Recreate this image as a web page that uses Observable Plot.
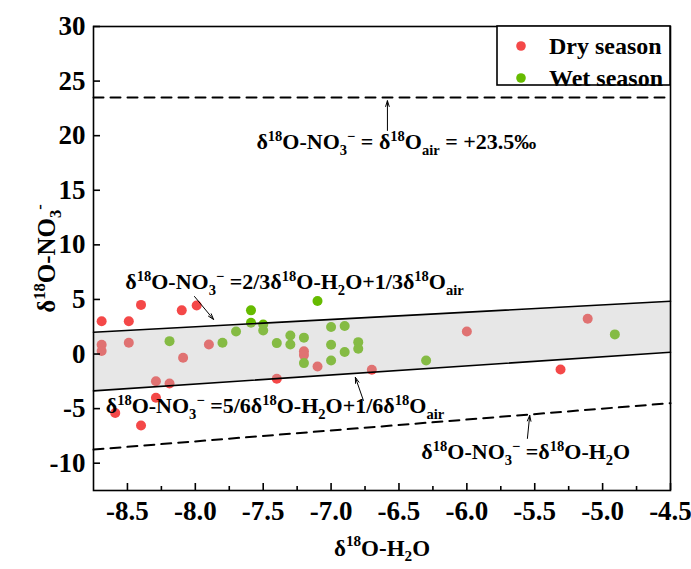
<!DOCTYPE html>
<html><head><meta charset="utf-8">
<script src="https://cdn.jsdelivr.net/npm/d3@7"></script>
<script src="https://cdn.jsdelivr.net/npm/@observablehq/plot@0.6"></script>
<style>
body{margin:0;background:#fff}
#chart svg, #chart svg text{font-family:"Liberation Serif","Times New Roman",serif !important;font-weight:bold}
</style>
</head><body><div id="chart"></div>
<script>
// ---- data ----
const dryX = [-8.69,-8.49,-8.40,-8.10,-7.99,-8.69,-8.69,-8.49,-8.09,-7.90,-8.29,-8.19,-8.29,-8.59,-8.40,-7.20,-7.20,-7.10,-7.40,-6.70,-6.00,-5.11,-5.31];
const dryY = [3.0,3.0,4.5,4.0,4.45,0.85,0.27,1.03,-0.34,0.88,-2.5,-2.7,-4.0,-5.4,-6.54,0.25,-0.1,-1.14,-2.27,-1.44,2.07,3.23,-1.41];
const wetX = [-8.19,-7.80,-7.70,-7.59,-7.10,-7.59,-7.50,-7.50,-7.40,-7.30,-7.30,-7.20,-7.20,-7.00,-6.90,-7.00,-6.90,-7.00,-6.80,-6.80,-6.30,-4.91];
const wetY = [1.18,1.03,2.07,4.0,4.85,2.87,2.7,2.16,1.0,1.7,0.88,1.5,-0.83,2.47,2.56,0.85,0.18,-0.59,1.09,0.48,-0.59,1.8];
const seasons = ["Dry season","Wet season"];
const seasonColors = ["#f44848","#66bb00"];
const xTicks = [-8.5,-8.0,-7.5,-7.0,-6.5,-6.0,-5.5,-5.0,-4.5];
const xMinorTicks = [-8.25,-7.75,-7.25,-6.75,-6.25,-5.75,-5.25,-4.75];
const yTicks = [-10,-5,0,5,10,15,20,25,30];
const xDomain = [-8.75,-4.5];
const yDomain = [-12.5,30];
const airO = 23.5; // δ18O air
// annotation labels (markup: ^{} superscript, _{} subscript)
const labelAir = "δ^{18}O-NO_{3}^{−} = δ^{18}O_{air} = +23.5‰";
const labelUpper = "δ^{18}O-NO_{3}^{−} =2/3δ^{18}O-H_{2}O+1/3δ^{18}O_{air}";
const labelLower = "δ^{18}O-NO_{3}^{−} =5/6δ^{18}O-H_{2}O+1/6δ^{18}O_{air}";
const labelWater = "δ^{18}O-NO_{3}^{−} =δ^{18}O-H_{2}O";
const xTitle = "δ^{18}O-H_{2}O";
const yTitle = "δ^{18}O-NO_{3}^{-}";
// annotation anchors in data units
const notes = [
  {x:-7.55, y:19.38, text:labelAir},
  {x:-8.516, y:6.56, text:labelUpper},
  {x:-8.66, y:-4.8, text:labelLower},
  {x:-6.335, y:-9.01, text:labelWater}
];
const arrows = [
  {x1:-6.585, y1:20.48, x2:-6.585, y2:23.2},
  {x1:-8.006, y1:5.27, x2:-7.866, y2:3.17},
  {x1:-6.762, y1:-4.25, x2:-6.821, y2:-2.14},
  {x1:-5.554, y1:-7.73, x2:-5.537, y2:-5.62}
];

// ---- derived tables ----
const points = [
  ...dryX.map((x,i)=>({x, y:dryY[i], s:seasons[0]})),
  ...wetX.map((x,i)=>({x, y:wetY[i], s:seasons[1]}))
];
const lineRows = xDomain.map(x => ({
  x,
  upper: 2/3*x + airO/3,
  lower: 5/6*x + airO/6,
  water: x,
  air: airO
}));

const W = 691, H = 569;
const mL = 93, mR = 21, mT = 26, mB = 79;
const FF = '"Liberation Serif","Times New Roman",serif';

const svg = Plot.plot({
  width: W, height: H,
  marginLeft: mL, marginRight: mR, marginTop: mT, marginBottom: mB,
  x: {domain: xDomain},
  y: {domain: yDomain},
  color: {domain: seasons, range: seasonColors},
  style: {fontFamily: FF, fontWeight: "bold", color: "black", background: "white"},
  marks: [
    Plot.dot(points, {x:"x", y:"y", fill:"s", r:5}),
    Plot.areaY(lineRows, {x:"x", y1:"lower", y2:"upper", fill:"#bdbdbd", fillOpacity:0.36}),
    Plot.line(lineRows, {x:"x", y:"upper", stroke:"black", strokeWidth:1.6}),
    Plot.line(lineRows, {x:"x", y:"lower", stroke:"black", strokeWidth:1.6}),
    Plot.line(lineRows, {x:"x", y:"water", stroke:"black", strokeWidth:2, strokeDasharray:"10,7"}),
    Plot.line(lineRows, {x:"x", y:"air", stroke:"black", strokeWidth:2, strokeDasharray:"10,7"}),
    Plot.arrow(arrows, {x1:"x1", y1:"y1", x2:"x2", y2:"y2", stroke:"black", strokeWidth:1, headLength:9, headAngle:35}),
    Plot.text(notes, {x:"x", y:"y", text:"text", textAnchor:"start", fontSize:22, fontWeight:"bold", fontFamily:FF, fill:"black"}),
    Plot.frame({stroke:"black", strokeWidth:1.6}),
    Plot.axisX(xTicks, {anchor:"bottom", tickSize:-7, tickPadding:17, tickFormat:d=>d.toFixed(1), fontSize:27, fontWeight:"bold", fontFamily:FF, label:null, strokeWidth:1.6}),
    Plot.axisX(xMinorTicks, {anchor:"bottom", tickSize:-4, text:null, label:null, strokeWidth:1.6}),
    Plot.axisY(yTicks, {anchor:"left", tickSize:-7, tickPadding:15, tickFormat:d=>String(d), fontSize:27, fontWeight:"bold", fontFamily:FF, label:null, strokeWidth:1.6}),
    Plot.text([xTitle], {frameAnchor:"bottom", dy:65, textAnchor:"middle", text:d=>d, fontSize:23, fontWeight:"bold", fontFamily:FF, fill:"black"}),
    Plot.text([yTitle], {frameAnchor:"left", dx:-47, rotate:-90, textAnchor:"middle", text:d=>d, fontSize:25, fontWeight:"bold", fontFamily:FF, fill:"black"})
  ]
});
document.getElementById("chart").appendChild(svg);

// ---- legend inside plot, top-right ----
const lg = d3.select(svg).append("g").attr("text-anchor","start");
const lgW = 173, lgH = 59, lgX = W - mR - lgW, lgY = mT;
lg.append("rect").attr("x",lgX).attr("y",lgY).attr("width",lgW).attr("height",lgH)
  .attr("fill","white").attr("stroke","black").attr("stroke-width",1.6);
seasons.forEach((s,i)=>{
  const cy = lgY + 20 + i*32;
  lg.append("circle").attr("cx",lgX+24).attr("cy",cy).attr("r",4.8).attr("fill",seasonColors[i]);
  lg.append("text").attr("x",lgX+52).attr("y",cy+8).attr("font-size",24).attr("font-weight","bold")
    .attr("font-family",FF).attr("text-anchor","start").attr("fill","black").text(s);
});

// ---- convert markup to real sub/superscripts ----
function richify(el){
  const src = el.textContent;
  if (!/[\^_]\{/.test(src)) return;
  const fs = parseFloat(getComputedStyle(el).fontSize) || 20;
  const parts = [];
  const re = /([\^_])\{([^}]*)\}|([^\^_]+)/g;
  let m;
  while ((m = re.exec(src))) {
    if (m[3] !== undefined) parts.push({t:m[3], k:0});
    else parts.push({t:m[2], k: m[1]==="^" ? -1 : 1});
  }
  while (el.firstChild) el.removeChild(el.firstChild);
  let cur = 0;
  for (const p of parts) {
    const target = p.k === -1 ? -0.40*fs : p.k === 1 ? 0.24*fs : 0;
    const ts = document.createElementNS("http://www.w3.org/2000/svg","tspan");
    ts.setAttribute("dy", (target-cur).toFixed(2));
    if (p.k !== 0) ts.setAttribute("font-size", (fs*0.66).toFixed(2));
    ts.textContent = p.t;
    el.appendChild(ts);
    cur = target;
  }
}
svg.querySelectorAll("text").forEach(richify);
</script>
</body></html>
